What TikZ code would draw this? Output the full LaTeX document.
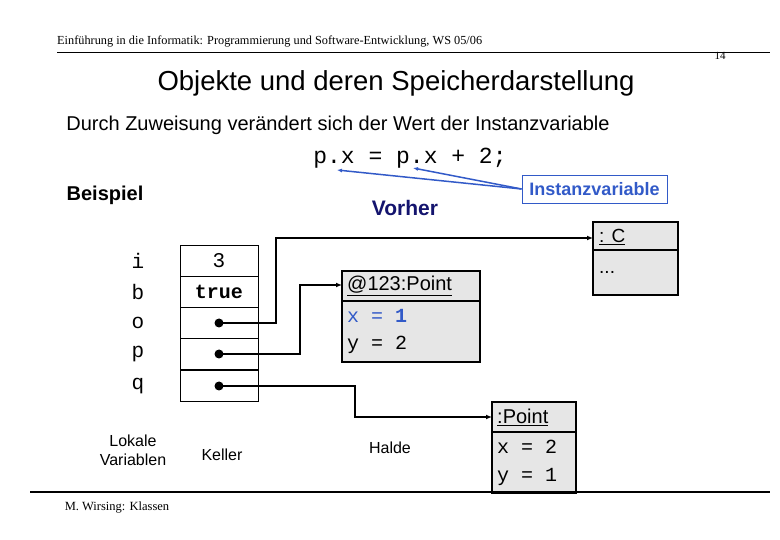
\documentclass[tikz,border=0pt]{standalone}
\usepackage{fontspec}
\setmainfont{Liberation Serif}
\newfontfamily\arial{Liberation Sans}
\newfontfamily\cour{Liberation Mono}
\usetikzlibrary{arrows.meta}
\definecolor{ivblue}{RGB}{50,90,200}
\definecolor{navy}{RGB}{20,20,110}
\definecolor{boxgray}{RGB}{230,230,230}
\begin{document}
\begin{tikzpicture}[x=1pt,y=-1pt,
 lbl/.style={inner sep=0pt,anchor=center},
 ptr/.style={line width=1.6pt,-{Latex[length=6pt,width=5pt]}},
 obj/.style={draw,line width=1.6pt,fill=boxgray},
 cell/.style={draw,line width=1pt}]
\useasboundingbox (0,0) rectangle (780,540);
\node[lbl,anchor=west] (hdr) at (57,42) {\fontsize{12.3}{14}\selectfont Einführung in die Informatik: Programmierung und Software-Entwicklung, WS 05/06};
\node[lbl] (pg) at (720,56) {\fontsize{11}{12}\selectfont 14};
\draw[line width=1pt] (57,53) -- (770,53);
\node[lbl] (title) at (396,83) {\arial\fontsize{27.5}{30}\selectfont Objekte und deren Speicherdarstellung};
\node[lbl] (sub) at (338,125) {\arial\fontsize{20}{22}\selectfont Durch Zuweisung verändert sich der Wert der Instanzvariable};
\node[lbl] (code) at (410,158) {\cour\fontsize{23}{24}\selectfont p.x = p.x + 2;};
\coordinate (x1) at (337,170);
\coordinate (x2) at (413,168);
\node[draw=ivblue,line width=0.8pt,minimum width=145pt,minimum height=28pt,inner sep=0pt] (iv) at (594.5,189) {\arial\bfseries\color{ivblue}\fontsize{18}{20}\selectfont Instanzvariable};
\draw[ivblue,line width=1.5pt,-{Latex[length=5pt,width=4pt]}] (iv.west) -- (x1);
\draw[ivblue,line width=1.5pt,-{Latex[length=5pt,width=4pt]}] (iv.west) -- (x2);
\node[lbl] (bsp) at (105,195) {\arial\bfseries\fontsize{20}{22}\selectfont Beispiel};
\node[lbl] (vor) at (405,208) {\arial\bfseries\color{navy}\fontsize{21}{23}\selectfont Vorher};
% stack
\foreach \n/\y in {i/261,b/292,o/323,p/354,q/386}{
 \node[cell,minimum width=78pt,minimum height=31pt,inner sep=0pt] (c\n) at (219,\y) {};
 \node[lbl] (l\n) at (138,\y) {\cour\fontsize{21}{22}\selectfont \n};
}
\node[lbl] (vi) at (219,261) {\cour\fontsize{21}{22}\selectfont 3};
\node[lbl] (vb) at (219,292) {\cour\bfseries\fontsize{20}{22}\selectfont true};
\foreach \n in {o,p,q}{\fill (c\n.center) circle (4.5pt);}
% objects
\draw[obj] (593,222) rectangle (678,295);
\draw[line width=1.6pt] (593,250) -- (678,250);
\node[lbl,anchor=west] (cC) at (599,237) {\arial\fontsize{19}{20}\selectfont \underline{: C}};
\node[lbl,anchor=west] (cdots) at (599,272) {\arial\fontsize{19}{20}\selectfont ...};
\coordinate (Cin) at (593,238);
\draw[obj] (342,271) rectangle (480,362);
\draw[line width=1.6pt] (342,301) -- (480,301);
\node[lbl,anchor=west] (p1) at (347,286) {\arial\fontsize{20}{22}\selectfont \underline{@123:Point}};
\node[lbl,anchor=west] (p1x) at (347,316) {\cour\fontsize{20}{22}\selectfont \textcolor{ivblue}{x = \textbf{1}}};
\node[lbl,anchor=west] (p1y) at (347,345) {\cour\fontsize{20}{22}\selectfont y = 2};
\coordinate (P1in) at (342,285);
\draw[obj] (492,402) rectangle (576,493);
\draw[line width=1.6pt] (492,432) -- (576,432);
\node[lbl,anchor=west] (p2) at (497,417) {\arial\fontsize{20}{22}\selectfont \underline{:Point}};
\node[lbl,anchor=west] (p2x) at (497,447) {\cour\fontsize{20}{22}\selectfont x = 2};
\node[lbl,anchor=west] (p2y) at (497,477) {\cour\fontsize{20}{22}\selectfont y = 1};
\coordinate (P2in) at (492,417);
\draw[ptr] (co.center) -- (276,323) -- (276,238) -- (Cin);
\draw[ptr] (cp.center) -- (300,354) -- (300,285) -- (P1in);
\draw[ptr] (cq.center) -- (355,386) -- (355,417) -- (P2in);
\node[lbl,align=center,font=\arial\fontsize{16}{19}\selectfont] (lv) at (133,450) {Lokale\\Variablen};
\node[lbl] (kel) at (222,455) {\arial\fontsize{16}{18}\selectfont Keller};
\node[lbl] (hal) at (390,448) {\arial\fontsize{16}{18}\selectfont Halde};
\draw[line width=1.2pt] (30,492) -- (770,492);
\node[lbl] (ft) at (117,508) {\fontsize{12.5}{14}\selectfont M. Wirsing: Klassen};
\end{tikzpicture}
\end{document}
